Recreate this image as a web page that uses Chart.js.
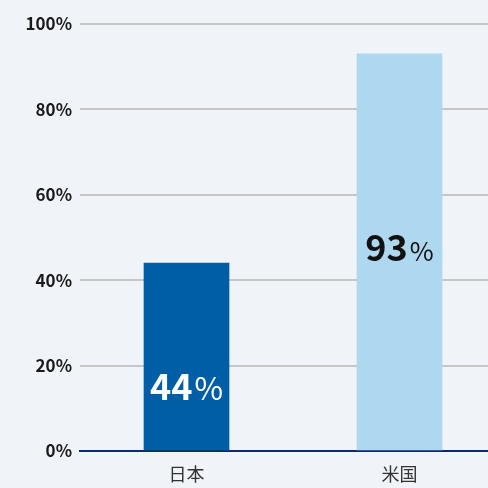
<!DOCTYPE html>
<html>
<head>
<meta charset="utf-8">
<script src="https://cdn.jsdelivr.net/npm/chart.js@4/dist/chart.umd.min.js"></script>
<style>
  html, body { margin: 0; padding: 0; background: #f0f4f8; overflow: hidden; }
  #wrap { width: 488px; height: 488px; overflow: hidden; }
  canvas { display: block; }
</style>
</head>
<body>
<div id="wrap"><canvas id="c" width="506" height="488"></canvas></div>
<script>
// Share of respondents by country
const categories = ['日本', '米国'];
const values = [44, 93];
const yTicks = [0, 20, 40, 60, 80, 100];
// Where each value label sits inside its bar (in axis units)
const labelAt = [15, 47.5];

const barColors = ['#005ea6', '#add8ef'];
const labelStyles = [
  { color: '#ffffff', numSize: 36, pctSize: 31 },
  { color: '#111111', numSize: 36, pctSize: 26 }
];

const FONT = "'Noto Sans CJK JP', 'Noto Sans', sans-serif";

const valueLabels = {
  id: 'valueLabels',
  afterDatasetsDraw(chart) {
    const ctx = chart.ctx;
    const meta = chart.getDatasetMeta(0);
    const y = chart.scales.y;
    meta.data.forEach((bar, i) => {
      const st = labelStyles[i];
      const num = String(values[i]);
      ctx.save();
      ctx.fillStyle = st.color;
      ctx.textBaseline = 'alphabetic';
      ctx.font = `bold ${st.numSize}px ${FONT}`;
      const wNum = ctx.measureText(num).width;
      ctx.font = `normal ${st.pctSize}px ${FONT}`;
      const wPct = ctx.measureText('%').width;
      const total = wNum + 2 + wPct;
      const x0 = bar.x - total / 2;
      const baseY = y.getPixelForValue(labelAt[i]) + st.numSize * 0.36;
      ctx.textAlign = 'left';
      ctx.font = `bold ${st.numSize}px ${FONT}`;
      ctx.fillText(num, x0, baseY);
      ctx.font = `normal ${st.pctSize}px ${FONT}`;
      ctx.fillText('%', x0 + wNum + 2, baseY);
      ctx.restore();
    });
  }
};

new Chart(document.getElementById('c'), {
  type: 'bar',
  data: {
    labels: categories,
    datasets: [{
      data: values,
      backgroundColor: barColors,
      borderWidth: 0,
      barThickness: 85
    }]
  },
  options: {
    responsive: false,
    animation: false,
    layout: { padding: { top: 24, right: 0, left: 0, bottom: 0 } },
    plugins: { legend: { display: false }, tooltip: { enabled: false } },
    scales: {
      x: {
        grid: { display: false, drawTicks: false },
        border: { display: true, color: '#0d2b6b', width: 2 },
        ticks: { color: '#333333', padding: 12, font: { family: FONT, size: 18 } },
        afterFit(s) { s.height = 37; }
      },
      y: {
        min: 0, max: 100,
        afterBuildTicks(s) { s.ticks = yTicks.map(v => ({ value: v })); },
        grid: { color: '#c6c6c6', lineWidth: 2, drawTicks: false },
        border: { display: false },
        ticks: {
          color: '#1a1a1a', padding: 8,
          font: { family: FONT, size: 17, weight: 'bold' },
          callback: v => v + '%'
        },
        afterFit(s) { s.width = 80; }
      }
    }
  },
  plugins: [valueLabels]
});
</script>
</body>
</html>
